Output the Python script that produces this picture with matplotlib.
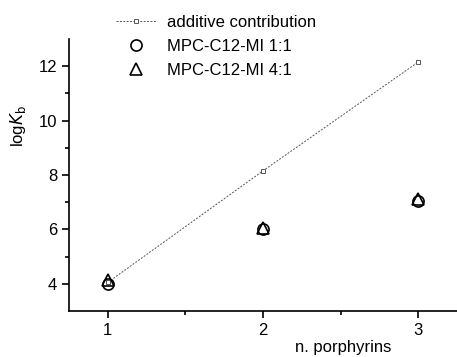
import numpy as np
import matplotlib
matplotlib.use("Agg")
import matplotlib.pyplot as plt

plt.rcParams["font.family"] = ["Liberation Sans", "DejaVu Sans"]

n_porph = [1, 2, 3]
additive = [4.05, 8.15, 12.15]
mpc_11 = [4.0, 6.0, 7.05]
mpc_41 = [4.15, 6.05, 7.1]

fig = plt.figure(figsize=(4.57, 3.57), dpi=100)
ax = fig.add_axes([0.151, 0.129, 0.849, 0.762])

l1, = ax.plot(n_porph, additive, ls=(0, (2, 1.5)), lw=0.7, c="#555555",
              marker="s", ms=3, mfc="white", mec="#555555", mew=0.7,
              label="additive contribution")
l2, = ax.plot(n_porph, mpc_11, ls="none", marker="o", ms=8, mfc="none",
              mec="black", mew=1.2, label="MPC-C12-MI 1:1")
l3, = ax.plot(n_porph, mpc_41, ls="none", marker="^", ms=8, mfc="none",
              mec="black", mew=1.2, label="MPC-C12-MI 4:1")

ax.set_xlim(0.75, 3.25)
ax.set_ylim(3, 13)
ax.set_xticks([1, 2, 3])
ax.set_xticks([1.5, 2.5], minor=True)
ax.set_yticks([4, 6, 8, 10, 12])
ax.set_yticks([5, 7, 9, 11], minor=True)
ax.spines["top"].set_visible(False)
ax.spines["right"].set_visible(False)
ax.spines["left"].set_linewidth(1.2)
ax.spines["bottom"].set_linewidth(1.2)
ax.tick_params(which="major", length=5, width=1.2, labelsize=12)
ax.tick_params(which="minor", length=3, width=1.2)

ax.set_xlabel("n. porphyrins", fontsize=12)
ax.xaxis.set_label_coords(0.706, -0.105)
ax.set_ylabel(r"log$K_{\mathrm{b}}$", fontsize=12)
ax.yaxis.set_label_coords(-0.105, 0.68)

fig.legend(handles=[l1, l2, l3], loc="upper left",
           bbox_to_anchor=(0.22, 1.0), frameon=False, fontsize=12,
           handlelength=2.5, labelspacing=0.55, handletextpad=0.6)

fig.savefig("out.png", dpi=100)
